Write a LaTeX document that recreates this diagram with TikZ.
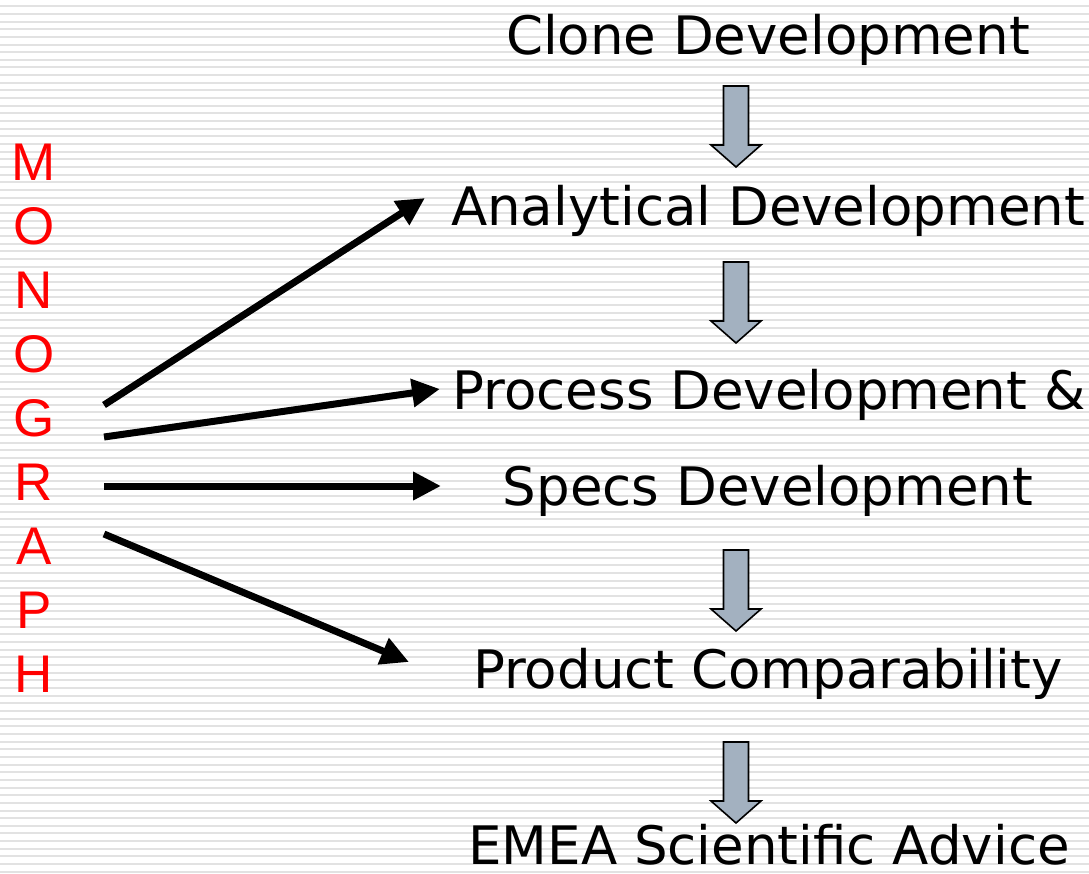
\documentclass[tikz,border=0pt]{standalone}
\usepackage{fontspec}
\setmainfont{DejaVu Sans}
\newfontfamily\lettersfont{Liberation Sans}
\usetikzlibrary{arrows.meta,calc}
\definecolor{stripe}{RGB}{226,226,226}
\definecolor{blockfill}{RGB}{163,177,192}
\definecolor{monored}{RGB}{255,0,0}
\tikzset{
  stage/.style={anchor=base, inner sep=0pt, font=\fontsize{53}{60}\selectfont},
  letter/.style={anchor=base, inner sep=0pt, text=monored, font=\lettersfont\fontsize{53}{60}\selectfont},
  link/.style={line width=7pt, -{Triangle[length=28pt,width=27pt]}},
}
% block arrow pointing down: top centre at the given point
\newcommand{\blockdown}[1]{%
  \draw[line width=1.6pt, fill=blockfill, line join=miter]
    ($(#1)+(-12.5,0)$) -- ++(25,0) -- ++(0,59) -- ++(12.5,0)
    -- ($(#1)+(0,81)$) -- ($(#1)+(-25,59)$) -- ++(12.5,0) -- cycle;}
\begin{document}
\begin{tikzpicture}[x=1pt,y=-1pt]
  \useasboundingbox (0,0) rectangle (1089,873);
  % striped background
  \fill[white] (0,0) rectangle (1089,873);
  \foreach \k in {0,...,114} {
    \fill[stripe] (0,{5.2+7.66*\k}) rectangle (1089,{7.2+7.66*\k});
  }
  % stages
  \node[stage] (clone)   at (768,54)  {Clone Development};
  \node[stage] (analyt)  at (768,225) {Analytical Development};
  \node[stage] (process) at (769,409) {Process Development \&};
  \node[stage] (specs)   at (768,505) {Specs Development};
  \node[stage] (product) at (768,688) {Product Comparability};
  \node[stage, text depth=0pt] (emea) at (769,864) {EMEA Scientific Advice};
  % block arrows between stages
  \coordinate (b1) at (736,86);
  \coordinate (b2) at (736,262);
  \coordinate (b3) at (736,550);
  \coordinate (b4) at (736,742);
  \blockdown{b1}
  \blockdown{b2}
  \blockdown{b3}
  \blockdown{b4}
  % vertical word
  \foreach \ch [count=\i from 0] in {M,O,N,O,G,R,A,P,H} {
    \node[letter] (l\i) at (34,{180+64*\i}) {\ch};
  }
  % arrows from the word to the stages
  \coordinate (s1) at (104,405);
  \coordinate (s2) at (104,437);
  \coordinate (s3) at (104,486);
  \coordinate (s4) at (104,534);
  \coordinate (t1) at (425,198);
  \coordinate (t2) at (440,389);
  \coordinate (t3) at (441,486);
  \coordinate (t4) at (409,662);
  \draw[link] (s1) -- (t1);
  \draw[link] (s2) -- (t2);
  \draw[link] (s3) -- (t3);
  \draw[link] (s4) -- (t4);
\end{tikzpicture}
\end{document}
